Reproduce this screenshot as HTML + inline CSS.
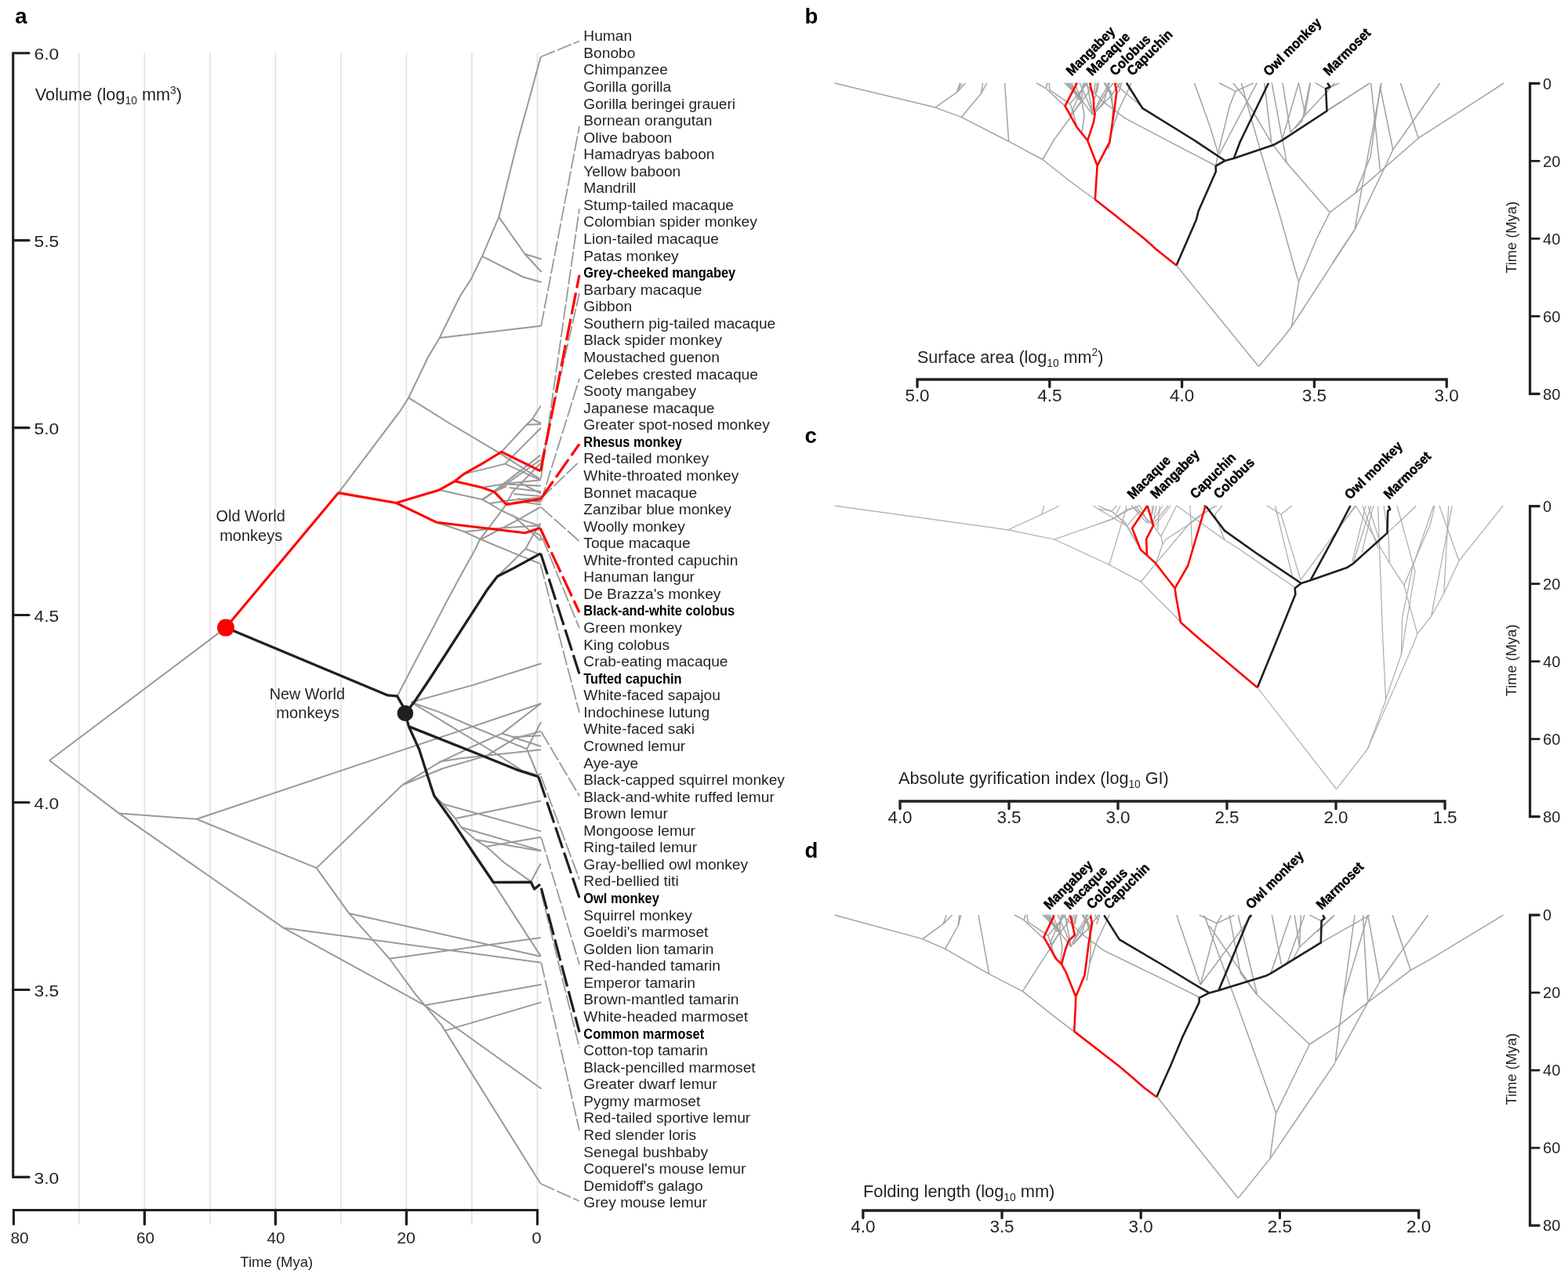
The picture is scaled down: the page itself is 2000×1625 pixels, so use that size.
<!DOCTYPE html>
<html><head><meta charset="utf-8"><title>Figure</title>
<style>html,body{margin:0;padding:0;background:#fff;} svg{display:block;} text{font-family:"Liberation Sans",Arial,sans-serif;}</style>
</head><body>
<svg xmlns="http://www.w3.org/2000/svg" width="2000" height="1625" viewBox="0 0 2000 1625">
<rect width="2000" height="1625" fill="#fff"/>
<line x1="100.9" y1="67.5" x2="100.9" y2="1562" stroke="#e3e3e3" stroke-width="1.8"/>
<line x1="184.4" y1="67.5" x2="184.4" y2="1562" stroke="#e3e3e3" stroke-width="1.8"/>
<line x1="267.9" y1="67.5" x2="267.9" y2="1562" stroke="#e3e3e3" stroke-width="1.8"/>
<line x1="351.4" y1="67.5" x2="351.4" y2="1562" stroke="#e3e3e3" stroke-width="1.8"/>
<line x1="434.9" y1="67.5" x2="434.9" y2="1562" stroke="#e3e3e3" stroke-width="1.8"/>
<line x1="518.4" y1="67.5" x2="518.4" y2="1562" stroke="#e3e3e3" stroke-width="1.8"/>
<line x1="601.9" y1="67.5" x2="601.9" y2="1562" stroke="#e3e3e3" stroke-width="1.8"/>
<line x1="685.4" y1="67.5" x2="685.4" y2="1562" stroke="#e3e3e3" stroke-width="1.8"/>
<path d="M37,67.7 H16.7 V1501.4 H37" fill="none" stroke="#231f20" stroke-width="3.1" stroke-linejoin="miter" stroke-linecap="round"/>
<line x1="16.7" y1="306.6" x2="37" y2="306.6" stroke="#231f20" stroke-width="3.1" stroke-linecap="round"/>
<line x1="16.7" y1="545.6" x2="37" y2="545.6" stroke="#231f20" stroke-width="3.1" stroke-linecap="round"/>
<line x1="16.7" y1="784.5" x2="37" y2="784.5" stroke="#231f20" stroke-width="3.1" stroke-linecap="round"/>
<line x1="16.7" y1="1023.5" x2="37" y2="1023.5" stroke="#231f20" stroke-width="3.1" stroke-linecap="round"/>
<line x1="16.7" y1="1262.5" x2="37" y2="1262.5" stroke="#231f20" stroke-width="3.1" stroke-linecap="round"/>
<text x="0" y="0" transform="translate(43.60,76.20) scale(1.0860,1)" fill="#231f20"><tspan font-size="21" dy="0">6.0</tspan></text>
<text x="0" y="0" transform="translate(43.60,315.15) scale(1.0860,1)" fill="#231f20"><tspan font-size="21" dy="0">5.5</tspan></text>
<text x="0" y="0" transform="translate(43.60,554.10) scale(1.0860,1)" fill="#231f20"><tspan font-size="21" dy="0">5.0</tspan></text>
<text x="0" y="0" transform="translate(43.60,793.05) scale(1.0860,1)" fill="#231f20"><tspan font-size="21" dy="0">4.5</tspan></text>
<text x="0" y="0" transform="translate(43.60,1032.00) scale(1.0860,1)" fill="#231f20"><tspan font-size="21" dy="0">4.0</tspan></text>
<text x="0" y="0" transform="translate(43.60,1270.95) scale(1.0860,1)" fill="#231f20"><tspan font-size="21" dy="0">3.5</tspan></text>
<text x="0" y="0" transform="translate(43.60,1509.90) scale(1.0860,1)" fill="#231f20"><tspan font-size="21" dy="0">3.0</tspan></text>
<path d="M17.4,1561.5 V1543.5 H685.4 V1561.5" fill="none" stroke="#231f20" stroke-width="3.1" stroke-linecap="round"/>
<line x1="184.4" y1="1543.5" x2="184.4" y2="1561.5" stroke="#231f20" stroke-width="3.4" stroke-linecap="round"/>
<line x1="351.4" y1="1543.5" x2="351.4" y2="1561.5" stroke="#231f20" stroke-width="3.4" stroke-linecap="round"/>
<line x1="518.4" y1="1543.5" x2="518.4" y2="1561.5" stroke="#231f20" stroke-width="3.4" stroke-linecap="round"/>
<text x="0" y="0" transform="translate(13.50,1586.30) scale(1.0597,1)" fill="#231f20"><tspan font-size="19.6" dy="0">80</tspan></text>
<text x="0" y="0" transform="translate(174.00,1586.30) scale(1.0551,1)" fill="#231f20"><tspan font-size="19.6" dy="0">60</tspan></text>
<text x="0" y="0" transform="translate(340.60,1586.30) scale(1.0551,1)" fill="#231f20"><tspan font-size="19.6" dy="0">40</tspan></text>
<text x="0" y="0" transform="translate(506.20,1586.30) scale(1.0918,1)" fill="#231f20"><tspan font-size="19.6" dy="0">20</tspan></text>
<text x="0" y="0" transform="translate(678.20,1586.30) scale(1.1377,1)" fill="#231f20"><tspan font-size="19.6" dy="0">0</tspan></text>
<text x="0" y="0" transform="translate(306.30,1616.30) scale(1.0184,1)" fill="#231f20"><tspan font-size="18.2" dy="0">Time (Mya)</tspan></text>
<text x="0" y="0" transform="translate(44.80,128.10) scale(0.9873,1)" fill="#231f20"><tspan font-size="22" dy="0">Volume (log</tspan><tspan font-size="14" dy="5">10</tspan><tspan font-size="22" dy="-5"> mm</tspan><tspan font-size="14" dy="-8">3</tspan><tspan font-size="22" dy="8">)</tspan></text>
<text x="19.3" y="29.8" font-size="27.5" text-anchor="start" font-weight="bold" fill="#000">a</text>
<text x="0" y="0" transform="translate(275.60,664.50) scale(1.0217,1)" fill="#231f20"><tspan font-size="19.5" dy="0">Old World</tspan></text>
<text x="0" y="0" transform="translate(280.20,689.50) scale(1.0266,1)" fill="#231f20"><tspan font-size="19.5" dy="0">monkeys</tspan></text>
<text x="0" y="0" transform="translate(343.70,891.90) scale(1.0138,1)" fill="#231f20"><tspan font-size="19.5" dy="0">New World</tspan></text>
<text x="0" y="0" transform="translate(352.30,915.90) scale(1.0330,1)" fill="#231f20"><tspan font-size="19.5" dy="0">monkeys</tspan></text>
<g transform="translate(744.3,0)">
<text x="0" y="52.3" font-size="17.5" fill="#231f20" transform="scale(1.095,1)">Human</text>
<text x="0" y="73.9" font-size="17.5" fill="#231f20" transform="scale(1.095,1)">Bonobo</text>
<text x="0" y="95.4" font-size="17.5" fill="#231f20" transform="scale(1.095,1)">Chimpanzee</text>
<text x="0" y="117.0" font-size="17.5" fill="#231f20" transform="scale(1.095,1)">Gorilla gorilla</text>
<text x="0" y="138.6" font-size="17.5" fill="#231f20" transform="scale(1.095,1)">Gorilla beringei graueri</text>
<text x="0" y="160.1" font-size="17.5" fill="#231f20" transform="scale(1.095,1)">Bornean orangutan</text>
<text x="0" y="181.7" font-size="17.5" fill="#231f20" transform="scale(1.095,1)">Olive baboon</text>
<text x="0" y="203.3" font-size="17.5" fill="#231f20" transform="scale(1.095,1)">Hamadryas baboon</text>
<text x="0" y="224.8" font-size="17.5" fill="#231f20" transform="scale(1.095,1)">Yellow baboon</text>
<text x="0" y="246.4" font-size="17.5" fill="#231f20" transform="scale(1.095,1)">Mandrill</text>
<text x="0" y="267.9" font-size="17.5" fill="#231f20" transform="scale(1.095,1)">Stump-tailed macaque</text>
<text x="0" y="289.5" font-size="17.5" fill="#231f20" transform="scale(1.095,1)">Colombian spider monkey</text>
<text x="0" y="311.1" font-size="17.5" fill="#231f20" transform="scale(1.095,1)">Lion-tailed macaque</text>
<text x="0" y="332.6" font-size="17.5" fill="#231f20" transform="scale(1.095,1)">Patas monkey</text>
<text x="0" y="354.2" font-size="17.5" font-weight="bold" fill="#000" transform="scale(0.937,1)">Grey-cheeked mangabey</text>
<text x="0" y="375.8" font-size="17.5" fill="#231f20" transform="scale(1.095,1)">Barbary macaque</text>
<text x="0" y="397.3" font-size="17.5" fill="#231f20" transform="scale(1.095,1)">Gibbon</text>
<text x="0" y="418.9" font-size="17.5" fill="#231f20" transform="scale(1.095,1)">Southern pig-tailed macaque</text>
<text x="0" y="440.5" font-size="17.5" fill="#231f20" transform="scale(1.095,1)">Black spider monkey</text>
<text x="0" y="462.0" font-size="17.5" fill="#231f20" transform="scale(1.095,1)">Moustached guenon</text>
<text x="0" y="483.6" font-size="17.5" fill="#231f20" transform="scale(1.095,1)">Celebes crested macaque</text>
<text x="0" y="505.2" font-size="17.5" fill="#231f20" transform="scale(1.095,1)">Sooty mangabey</text>
<text x="0" y="526.7" font-size="17.5" fill="#231f20" transform="scale(1.095,1)">Japanese macaque</text>
<text x="0" y="548.3" font-size="17.5" fill="#231f20" transform="scale(1.095,1)">Greater spot-nosed monkey</text>
<text x="0" y="569.9" font-size="17.5" font-weight="bold" fill="#000" transform="scale(0.937,1)">Rhesus monkey</text>
<text x="0" y="591.4" font-size="17.5" fill="#231f20" transform="scale(1.095,1)">Red-tailed monkey</text>
<text x="0" y="613.0" font-size="17.5" fill="#231f20" transform="scale(1.095,1)">White-throated monkey</text>
<text x="0" y="634.6" font-size="17.5" fill="#231f20" transform="scale(1.095,1)">Bonnet macaque</text>
<text x="0" y="656.1" font-size="17.5" fill="#231f20" transform="scale(1.095,1)">Zanzibar blue monkey</text>
<text x="0" y="677.7" font-size="17.5" fill="#231f20" transform="scale(1.095,1)">Woolly monkey</text>
<text x="0" y="699.2" font-size="17.5" fill="#231f20" transform="scale(1.095,1)">Toque macaque</text>
<text x="0" y="720.8" font-size="17.5" fill="#231f20" transform="scale(1.095,1)">White-fronted capuchin</text>
<text x="0" y="742.4" font-size="17.5" fill="#231f20" transform="scale(1.095,1)">Hanuman langur</text>
<text x="0" y="763.9" font-size="17.5" fill="#231f20" transform="scale(1.095,1)">De Brazza's monkey</text>
<text x="0" y="785.5" font-size="17.5" font-weight="bold" fill="#000" transform="scale(0.937,1)">Black-and-white colobus</text>
<text x="0" y="807.1" font-size="17.5" fill="#231f20" transform="scale(1.095,1)">Green monkey</text>
<text x="0" y="828.6" font-size="17.5" fill="#231f20" transform="scale(1.095,1)">King colobus</text>
<text x="0" y="850.2" font-size="17.5" fill="#231f20" transform="scale(1.095,1)">Crab-eating macaque</text>
<text x="0" y="871.8" font-size="17.5" font-weight="bold" fill="#000" transform="scale(0.937,1)">Tufted capuchin</text>
<text x="0" y="893.3" font-size="17.5" fill="#231f20" transform="scale(1.095,1)">White-faced sapajou</text>
<text x="0" y="914.9" font-size="17.5" fill="#231f20" transform="scale(1.095,1)">Indochinese lutung</text>
<text x="0" y="936.5" font-size="17.5" fill="#231f20" transform="scale(1.095,1)">White-faced saki</text>
<text x="0" y="958.0" font-size="17.5" fill="#231f20" transform="scale(1.095,1)">Crowned lemur</text>
<text x="0" y="979.6" font-size="17.5" fill="#231f20" transform="scale(1.095,1)">Aye-aye</text>
<text x="0" y="1001.2" font-size="17.5" fill="#231f20" transform="scale(1.095,1)">Black-capped squirrel monkey</text>
<text x="0" y="1022.7" font-size="17.5" fill="#231f20" transform="scale(1.095,1)">Black-and-white ruffed lemur</text>
<text x="0" y="1044.3" font-size="17.5" fill="#231f20" transform="scale(1.095,1)">Brown lemur</text>
<text x="0" y="1065.9" font-size="17.5" fill="#231f20" transform="scale(1.095,1)">Mongoose lemur</text>
<text x="0" y="1087.4" font-size="17.5" fill="#231f20" transform="scale(1.095,1)">Ring-tailed lemur</text>
<text x="0" y="1109.0" font-size="17.5" fill="#231f20" transform="scale(1.095,1)">Gray-bellied owl monkey</text>
<text x="0" y="1130.5" font-size="17.5" fill="#231f20" transform="scale(1.095,1)">Red-bellied titi</text>
<text x="0" y="1152.1" font-size="17.5" font-weight="bold" fill="#000" transform="scale(0.937,1)">Owl monkey</text>
<text x="0" y="1173.7" font-size="17.5" fill="#231f20" transform="scale(1.095,1)">Squirrel monkey</text>
<text x="0" y="1195.2" font-size="17.5" fill="#231f20" transform="scale(1.095,1)">Goeldi's marmoset</text>
<text x="0" y="1216.8" font-size="17.5" fill="#231f20" transform="scale(1.095,1)">Golden lion tamarin</text>
<text x="0" y="1238.4" font-size="17.5" fill="#231f20" transform="scale(1.095,1)">Red-handed tamarin</text>
<text x="0" y="1259.9" font-size="17.5" fill="#231f20" transform="scale(1.095,1)">Emperor tamarin</text>
<text x="0" y="1281.5" font-size="17.5" fill="#231f20" transform="scale(1.095,1)">Brown-mantled tamarin</text>
<text x="0" y="1303.1" font-size="17.5" fill="#231f20" transform="scale(1.095,1)">White-headed marmoset</text>
<text x="0" y="1324.6" font-size="17.5" font-weight="bold" fill="#000" transform="scale(0.937,1)">Common marmoset</text>
<text x="0" y="1346.2" font-size="17.5" fill="#231f20" transform="scale(1.095,1)">Cotton-top tamarin</text>
<text x="0" y="1367.8" font-size="17.5" fill="#231f20" transform="scale(1.095,1)">Black-pencilled marmoset</text>
<text x="0" y="1389.3" font-size="17.5" fill="#231f20" transform="scale(1.095,1)">Greater dwarf lemur</text>
<text x="0" y="1410.9" font-size="17.5" fill="#231f20" transform="scale(1.095,1)">Pygmy marmoset</text>
<text x="0" y="1432.5" font-size="17.5" fill="#231f20" transform="scale(1.095,1)">Red-tailed sportive lemur</text>
<text x="0" y="1454.0" font-size="17.5" fill="#231f20" transform="scale(1.095,1)">Red slender loris</text>
<text x="0" y="1475.6" font-size="17.5" fill="#231f20" transform="scale(1.095,1)">Senegal bushbaby</text>
<text x="0" y="1497.2" font-size="17.5" fill="#231f20" transform="scale(1.095,1)">Coquerel's mouse lemur</text>
<text x="0" y="1518.7" font-size="17.5" fill="#231f20" transform="scale(1.095,1)">Demidoff's galago</text>
<text x="0" y="1540.3" font-size="17.5" fill="#231f20" transform="scale(1.095,1)">Grey mouse lemur</text>
</g>
<polyline points="63.0,970.0 288.0,800.6" fill="none" stroke="#999999" stroke-width="2.0" stroke-linejoin="round" stroke-linecap="butt"/>
<polyline points="63.0,970.0 151.7,1037.4" fill="none" stroke="#999999" stroke-width="2.0" stroke-linejoin="round" stroke-linecap="butt"/>
<polyline points="151.7,1037.4 250.6,1044.8" fill="none" stroke="#999999" stroke-width="2.0" stroke-linejoin="round" stroke-linecap="butt"/>
<polyline points="250.6,1044.8 690.5,897.2" fill="none" stroke="#999999" stroke-width="2.0" stroke-linejoin="round" stroke-linecap="butt"/>
<polyline points="250.6,1044.8 403.7,1107.1" fill="none" stroke="#999999" stroke-width="2.0" stroke-linejoin="round" stroke-linecap="butt"/>
<polyline points="403.7,1107.1 513.2,1001.2" fill="none" stroke="#999999" stroke-width="2.0" stroke-linejoin="round" stroke-linecap="butt"/>
<polyline points="403.7,1107.1 445.1,1164.9 496.8,1222.8 530.0,1268.3 563.4,1307.9 689.5,1509.8" fill="none" stroke="#999999" stroke-width="2.0" stroke-linejoin="round" stroke-linecap="butt"/>
<polyline points="445.1,1164.9 689.7,1220.0" fill="none" stroke="#999999" stroke-width="2.0" stroke-linejoin="round" stroke-linecap="butt"/>
<polyline points="496.8,1222.8 689.7,1196.0" fill="none" stroke="#999999" stroke-width="2.0" stroke-linejoin="round" stroke-linecap="butt"/>
<polyline points="151.7,1037.4 361.4,1183.4" fill="none" stroke="#999999" stroke-width="2.0" stroke-linejoin="round" stroke-linecap="butt"/>
<polyline points="361.4,1183.4 689.7,1227.8" fill="none" stroke="#999999" stroke-width="2.0" stroke-linejoin="round" stroke-linecap="butt"/>
<polyline points="361.4,1183.4 541.8,1282.3 690.5,1388.7" fill="none" stroke="#999999" stroke-width="2.0" stroke-linejoin="round" stroke-linecap="butt"/>
<polyline points="541.8,1282.3 690.5,1255.8" fill="none" stroke="#999999" stroke-width="2.0" stroke-linejoin="round" stroke-linecap="butt"/>
<polyline points="568.4,1314.4 690.5,1278.4" fill="none" stroke="#999999" stroke-width="2.0" stroke-linejoin="round" stroke-linecap="butt"/>
<polyline points="431.7,628.6 511.0,523.4 521.2,507.3" fill="none" stroke="#999999" stroke-width="2.0" stroke-linejoin="round" stroke-linecap="butt"/>
<polyline points="521.2,507.3 545.8,456.0 560.6,431.0" fill="none" stroke="#999999" stroke-width="2.0" stroke-linejoin="round" stroke-linecap="butt"/>
<polyline points="560.6,431.0 689.8,415.7" fill="none" stroke="#999999" stroke-width="2.0" stroke-linejoin="round" stroke-linecap="butt"/>
<polyline points="560.6,431.0 586.4,378.5 601.2,355.4 615.0,326.8" fill="none" stroke="#999999" stroke-width="2.0" stroke-linejoin="round" stroke-linecap="butt"/>
<polyline points="615.0,326.8 667.7,353.5 690.7,360.0" fill="none" stroke="#999999" stroke-width="2.0" stroke-linejoin="round" stroke-linecap="butt"/>
<polyline points="615.0,326.8 636.3,276.9" fill="none" stroke="#999999" stroke-width="2.0" stroke-linejoin="round" stroke-linecap="butt"/>
<polyline points="636.3,276.9 669.5,324.0 690.7,330.5" fill="none" stroke="#999999" stroke-width="2.0" stroke-linejoin="round" stroke-linecap="butt"/>
<polyline points="669.5,324.0 690.7,347.0" fill="none" stroke="#999999" stroke-width="2.0" stroke-linejoin="round" stroke-linecap="butt"/>
<polyline points="636.3,276.9 661.0,177.0 672.8,134.5 689.7,72.5" fill="none" stroke="#999999" stroke-width="2.0" stroke-linejoin="round" stroke-linecap="butt"/>
<polyline points="521.2,507.3 573.5,540.0 635.4,576.9 689.5,611.4" fill="none" stroke="#999999" stroke-width="2.0" stroke-linejoin="round" stroke-linecap="butt"/>
<polyline points="524.3,895.7 604.0,873.6 690.5,846.2" fill="none" stroke="#999999" stroke-width="2.0" stroke-linejoin="round" stroke-linecap="butt"/>
<polyline points="591.7,604.6 644.3,591.6 690.0,545.8" fill="none" stroke="#999999" stroke-width="2.0" stroke-linejoin="round" stroke-linecap="butt"/>
<polyline points="644.3,591.6 689.3,612.3" fill="none" stroke="#999999" stroke-width="2.0" stroke-linejoin="round" stroke-linecap="butt"/>
<polyline points="639.8,576.1 671.6,541.8 679.0,534.5 689.7,517.5" fill="none" stroke="#999999" stroke-width="2.0" stroke-linejoin="round" stroke-linecap="butt"/>
<polyline points="671.6,541.8 690.0,541.0" fill="none" stroke="#999999" stroke-width="2.0" stroke-linejoin="round" stroke-linecap="butt"/>
<polyline points="679.0,534.5 690.0,540.0" fill="none" stroke="#999999" stroke-width="2.0" stroke-linejoin="round" stroke-linecap="butt"/>
<polyline points="616.2,637.4 689.3,580.6" fill="none" stroke="#999999" stroke-width="2.0" stroke-linejoin="round" stroke-linecap="butt"/>
<polyline points="631.7,627.1 689.3,586.5" fill="none" stroke="#999999" stroke-width="2.0" stroke-linejoin="round" stroke-linecap="butt"/>
<polyline points="618.4,621.2 646.5,616.7 690.0,612.3" fill="none" stroke="#999999" stroke-width="2.0" stroke-linejoin="round" stroke-linecap="butt"/>
<polyline points="645.0,617.5 690.0,619.7" fill="none" stroke="#999999" stroke-width="2.0" stroke-linejoin="round" stroke-linecap="butt"/>
<polyline points="649.4,621.9 690.0,627.1" fill="none" stroke="#999999" stroke-width="2.0" stroke-linejoin="round" stroke-linecap="butt"/>
<polyline points="663.5,616.0 690.0,629.3" fill="none" stroke="#999999" stroke-width="2.0" stroke-linejoin="round" stroke-linecap="butt"/>
<polyline points="655.0,630.0 690.0,633.0" fill="none" stroke="#999999" stroke-width="2.0" stroke-linejoin="round" stroke-linecap="butt"/>
<polyline points="660.0,636.0 690.0,640.5" fill="none" stroke="#999999" stroke-width="2.0" stroke-linejoin="round" stroke-linecap="butt"/>
<polyline points="670.0,641.0 690.0,643.5" fill="none" stroke="#999999" stroke-width="2.0" stroke-linejoin="round" stroke-linecap="butt"/>
<polyline points="560.3,624.9 614.7,637.0 624.3,642.2 639.1,651.0 661.2,661.4 689.3,671.0" fill="none" stroke="#999999" stroke-width="2.0" stroke-linejoin="round" stroke-linecap="butt"/>
<polyline points="614.7,637.0 631.7,626.6 646.5,620.0" fill="none" stroke="#999999" stroke-width="2.0" stroke-linejoin="round" stroke-linecap="butt"/>
<polyline points="624.3,642.2 646.5,638.5 689.3,634.8" fill="none" stroke="#999999" stroke-width="2.0" stroke-linejoin="round" stroke-linecap="butt"/>
<polyline points="507.3,886.9 528.7,845.5 549.4,806.4 568.6,769.4 584.4,740.0 606.5,700.0 611.8,688.7 645.0,644.4 653.9,627.4 661.2,620.0 689.3,591.0" fill="none" stroke="#999999" stroke-width="2.0" stroke-linejoin="round" stroke-linecap="butt"/>
<polyline points="556.6,666.2 592.6,678.3 613.2,688.0 661.2,707.9 689.3,719.0" fill="none" stroke="#999999" stroke-width="2.0" stroke-linejoin="round" stroke-linecap="butt"/>
<polyline points="592.6,678.3 631.7,673.9 689.3,670.2" fill="none" stroke="#999999" stroke-width="2.0" stroke-linejoin="round" stroke-linecap="butt"/>
<polyline points="613.2,688.0 661.2,662.8 689.3,646.6" fill="none" stroke="#999999" stroke-width="2.0" stroke-linejoin="round" stroke-linecap="butt"/>
<polyline points="634.4,735.2 670.3,700.0 681.9,679.1 689.3,667.3" fill="none" stroke="#999999" stroke-width="2.0" stroke-linejoin="round" stroke-linecap="butt"/>
<polyline points="681.9,679.1 689.3,682.8 690.8,689.4" fill="none" stroke="#999999" stroke-width="2.0" stroke-linejoin="round" stroke-linecap="butt"/>
<polyline points="670.3,700.0 689.3,707.6" fill="none" stroke="#999999" stroke-width="2.0" stroke-linejoin="round" stroke-linecap="butt"/>
<polyline points="653.9,656.9 689.3,689.4" fill="none" stroke="#999999" stroke-width="2.0" stroke-linejoin="round" stroke-linecap="butt"/>
<polyline points="524.3,895.7 560.0,908.1 603.1,927.0 672.0,955.4 682.3,980.0 686.8,990.8" fill="none" stroke="#999999" stroke-width="2.0" stroke-linejoin="round" stroke-linecap="butt"/>
<polyline points="524.3,895.7 560.0,917.1 630.6,960.0 665.1,982.4 687.5,989.3" fill="none" stroke="#999999" stroke-width="2.0" stroke-linejoin="round" stroke-linecap="butt"/>
<polyline points="513.2,1001.2 560.5,972.4 603.1,952.0 640.1,935.6 690.1,897.3" fill="none" stroke="#999999" stroke-width="2.0" stroke-linejoin="round" stroke-linecap="butt"/>
<polyline points="513.2,1001.2 565.2,980.0 620.3,964.1 657.4,941.7 690.1,932.6" fill="none" stroke="#999999" stroke-width="2.0" stroke-linejoin="round" stroke-linecap="butt"/>
<polyline points="560.0,971.8 585.8,967.5 690.1,956.3" fill="none" stroke="#999999" stroke-width="2.0" stroke-linejoin="round" stroke-linecap="butt"/>
<polyline points="640.1,935.6 654.8,940.0 690.1,938.2" fill="none" stroke="#999999" stroke-width="2.0" stroke-linejoin="round" stroke-linecap="butt"/>
<polyline points="672.0,955.4 690.1,921.0" fill="none" stroke="#999999" stroke-width="2.0" stroke-linejoin="round" stroke-linecap="butt"/>
<polyline points="653.0,940.0 690.1,952.0" fill="none" stroke="#999999" stroke-width="2.0" stroke-linejoin="round" stroke-linecap="butt"/>
<polyline points="687.5,988.4 690.1,986.7" fill="none" stroke="#999999" stroke-width="2.0" stroke-linejoin="round" stroke-linecap="butt"/>
<polyline points="553.9,1015.2 565.2,1025.5 690.1,1060.4" fill="none" stroke="#999999" stroke-width="2.0" stroke-linejoin="round" stroke-linecap="butt"/>
<polyline points="565.2,1025.5 580.7,1044.0 588.4,1055.2 606.5,1071.1 620.3,1079.8 642.7,1100.0 677.2,1124.4" fill="none" stroke="#999999" stroke-width="2.0" stroke-linejoin="round" stroke-linecap="butt"/>
<polyline points="580.7,1044.0 690.1,1021.6" fill="none" stroke="#999999" stroke-width="2.0" stroke-linejoin="round" stroke-linecap="butt"/>
<polyline points="588.4,1055.2 690.1,1084.9" fill="none" stroke="#999999" stroke-width="2.0" stroke-linejoin="round" stroke-linecap="butt"/>
<polyline points="606.5,1071.1 690.1,1085.5" fill="none" stroke="#999999" stroke-width="2.0" stroke-linejoin="round" stroke-linecap="butt"/>
<polyline points="620.3,1079.8 690.1,1067.7" fill="none" stroke="#999999" stroke-width="2.0" stroke-linejoin="round" stroke-linecap="butt"/>
<polyline points="629.2,1125.9 689.7,1219.6" fill="none" stroke="#999999" stroke-width="2.0" stroke-linejoin="round" stroke-linecap="butt"/>
<polyline points="677.2,1124.4 689.7,1101.5" fill="none" stroke="#999999" stroke-width="2.0" stroke-linejoin="round" stroke-linecap="butt"/>
<polyline points="689.7,72.5 739.0,52.5" fill="none" stroke="#999999" stroke-width="1.8" stroke-linejoin="round" stroke-linecap="butt" stroke-dasharray="19.5,3.2"/>
<polyline points="690.2,415.8 739.0,161.0" fill="none" stroke="#999999" stroke-width="1.8" stroke-linejoin="round" stroke-linecap="butt" stroke-dasharray="19.5,3.2"/>
<polyline points="690.0,610.0 739.0,266.3" fill="none" stroke="#999999" stroke-width="1.8" stroke-linejoin="round" stroke-linecap="butt" stroke-dasharray="19.5,3.2"/>
<polyline points="690.0,590.0 739.0,373.7" fill="none" stroke="#999999" stroke-width="1.8" stroke-linejoin="round" stroke-linecap="butt" stroke-dasharray="19.5,3.2"/>
<polyline points="690.0,640.0 739.0,482.9" fill="none" stroke="#999999" stroke-width="1.8" stroke-linejoin="round" stroke-linecap="butt" stroke-dasharray="19.5,3.2"/>
<polyline points="690.0,636.0 739.0,588.5" fill="none" stroke="#999999" stroke-width="1.8" stroke-linejoin="round" stroke-linecap="butt" stroke-dasharray="19.5,3.2"/>
<polyline points="690.0,646.9 739.0,690.4" fill="none" stroke="#999999" stroke-width="1.8" stroke-linejoin="round" stroke-linecap="butt" stroke-dasharray="19.5,3.2"/>
<polyline points="691.8,686.0 739.0,801.1" fill="none" stroke="#999999" stroke-width="1.8" stroke-linejoin="round" stroke-linecap="butt" stroke-dasharray="19.5,3.2"/>
<polyline points="689.5,719.9 739.0,909.0" fill="none" stroke="#999999" stroke-width="1.8" stroke-linejoin="round" stroke-linecap="butt" stroke-dasharray="19.5,3.2"/>
<polyline points="690.3,933.2 739.0,1015.2" fill="none" stroke="#999999" stroke-width="1.8" stroke-linejoin="round" stroke-linecap="butt" stroke-dasharray="19.5,3.2"/>
<polyline points="690.0,990.0 739.0,1121.6" fill="none" stroke="#999999" stroke-width="1.8" stroke-linejoin="round" stroke-linecap="butt" stroke-dasharray="19.5,3.2"/>
<polyline points="690.3,1068.4 739.0,1230.0" fill="none" stroke="#999999" stroke-width="1.8" stroke-linejoin="round" stroke-linecap="butt" stroke-dasharray="19.5,3.2"/>
<polyline points="690.0,1137.0 739.0,1336.4" fill="none" stroke="#999999" stroke-width="1.8" stroke-linejoin="round" stroke-linecap="butt" stroke-dasharray="19.5,3.2"/>
<polyline points="690.3,1227.8 739.0,1441.9" fill="none" stroke="#999999" stroke-width="1.8" stroke-linejoin="round" stroke-linecap="butt" stroke-dasharray="19.5,3.2"/>
<polyline points="689.5,1509.8 739.0,1532.0" fill="none" stroke="#999999" stroke-width="1.8" stroke-linejoin="round" stroke-linecap="butt" stroke-dasharray="19.5,3.2"/>
<polyline points="288.0,800.6 494.8,886.9 506.6,887.9 514.0,900.9 516.9,909.7" fill="none" stroke="#1f1f1f" stroke-width="3.3" stroke-linejoin="round" stroke-linecap="butt"/>
<polyline points="516.9,909.7 528.7,895.0 549.4,864.0 621.8,751.7 634.4,735.2 655.8,724.4 689.7,705.9" fill="none" stroke="#1f1f1f" stroke-width="3.3" stroke-linejoin="round" stroke-linecap="butt"/>
<polyline points="516.9,909.7 521.4,926.6 601.1,958.3 661.7,982.7 686.8,990.8" fill="none" stroke="#1f1f1f" stroke-width="3.3" stroke-linejoin="round" stroke-linecap="butt"/>
<polyline points="521.4,926.6 534.7,956.0 549.4,1001.9 553.9,1015.2 576.0,1046.2 605.6,1090.5 629.2,1125.3 677.2,1125.1 681.6,1134.0 689.0,1128.0" fill="none" stroke="#1f1f1f" stroke-width="3.3" stroke-linejoin="round" stroke-linecap="butt"/>
<polyline points="288.0,800.6 431.7,628.6" fill="none" stroke="#ff0000" stroke-width="3.1" stroke-linejoin="round" stroke-linecap="butt"/>
<polyline points="431.7,628.6 505.5,641.5" fill="none" stroke="#ff0000" stroke-width="3.1" stroke-linejoin="round" stroke-linecap="butt"/>
<polyline points="505.5,641.5 560.3,624.9 580.0,613.8" fill="none" stroke="#ff0000" stroke-width="3.1" stroke-linejoin="round" stroke-linecap="butt"/>
<polyline points="580.0,613.8 591.7,604.6 614.5,591.7 639.7,576.3 689.5,600.9" fill="none" stroke="#ff0000" stroke-width="3.1" stroke-linejoin="round" stroke-linecap="butt"/>
<polyline points="580.0,613.8 614.5,621.8 630.5,627.4 645.8,643.4 689.5,636.6" fill="none" stroke="#ff0000" stroke-width="3.1" stroke-linejoin="round" stroke-linecap="butt"/>
<polyline points="505.5,641.5 556.6,666.2 669.8,679.7 688.9,673.5" fill="none" stroke="#ff0000" stroke-width="3.1" stroke-linejoin="round" stroke-linecap="butt"/>
<polyline points="689.5,600.9 739.0,350.8" fill="none" stroke="#ff0000" stroke-width="3.2" stroke-linejoin="round" stroke-linecap="butt" stroke-dasharray="28,6"/>
<polyline points="689.5,636.6 739.0,566.4" fill="none" stroke="#ff0000" stroke-width="3.2" stroke-linejoin="round" stroke-linecap="butt" stroke-dasharray="28,6"/>
<polyline points="688.9,673.5 739.0,781.2" fill="none" stroke="#ff0000" stroke-width="3.2" stroke-linejoin="round" stroke-linecap="butt" stroke-dasharray="28,6"/>
<polyline points="689.7,705.9 739.0,859.5" fill="none" stroke="#1f1f1f" stroke-width="3.2" stroke-linejoin="round" stroke-linecap="butt" stroke-dasharray="28,6"/>
<polyline points="686.8,990.8 739.0,1145.1" fill="none" stroke="#1f1f1f" stroke-width="3.2" stroke-linejoin="round" stroke-linecap="butt" stroke-dasharray="28,6"/>
<polyline points="690.3,1132.6 739.0,1316.5" fill="none" stroke="#1f1f1f" stroke-width="3.2" stroke-linejoin="round" stroke-linecap="butt" stroke-dasharray="28,6"/>
<circle cx="288" cy="800.6" r="11" fill="#ff0000"/>
<circle cx="516.9" cy="909.7" r="10.3" fill="#1f1f1f"/>
<text x="1026.6" y="30.3" font-size="27.5" text-anchor="start" font-weight="bold" fill="#000">b</text>
<path d="M1170.0,493.5 V484.0 H1845.2 V493.5" fill="none" stroke="#231f20" stroke-width="3.3" stroke-linecap="round"/>
<line x1="1338.8" y1="484.0" x2="1338.8" y2="493.5" stroke="#231f20" stroke-width="3.3" stroke-linecap="round"/>
<line x1="1507.6" y1="484.0" x2="1507.6" y2="493.5" stroke="#231f20" stroke-width="3.3" stroke-linecap="round"/>
<line x1="1676.4" y1="484.0" x2="1676.4" y2="493.5" stroke="#231f20" stroke-width="3.3" stroke-linecap="round"/>
<text x="0" y="0" transform="translate(1154.40,511.70) scale(1.0392,1)" fill="#231f20"><tspan font-size="21.6" dy="0">5.0</tspan></text>
<text x="0" y="0" transform="translate(1323.20,511.70) scale(1.0392,1)" fill="#231f20"><tspan font-size="21.6" dy="0">4.5</tspan></text>
<text x="0" y="0" transform="translate(1492.00,511.70) scale(1.0392,1)" fill="#231f20"><tspan font-size="21.6" dy="0">4.0</tspan></text>
<text x="0" y="0" transform="translate(1660.80,511.70) scale(1.0392,1)" fill="#231f20"><tspan font-size="21.6" dy="0">3.5</tspan></text>
<text x="0" y="0" transform="translate(1829.60,511.70) scale(1.0392,1)" fill="#231f20"><tspan font-size="21.6" dy="0">3.0</tspan></text>
<path d="M1963.2,106.3 H1951.5 V502.3 H1963.2" fill="none" stroke="#231f20" stroke-width="3.2" stroke-linecap="round"/>
<line x1="1951.5" y1="205.3" x2="1963.2" y2="205.3" stroke="#231f20" stroke-width="2.8" stroke-linecap="round"/>
<line x1="1951.5" y1="304.3" x2="1963.2" y2="304.3" stroke="#231f20" stroke-width="2.8" stroke-linecap="round"/>
<line x1="1951.5" y1="403.3" x2="1963.2" y2="403.3" stroke="#231f20" stroke-width="2.8" stroke-linecap="round"/>
<text x="0" y="0" transform="translate(1968.10,113.60) scale(0.9561,1)" fill="#231f20"><tspan font-size="20.5" dy="0">0</tspan></text>
<text x="0" y="0" transform="translate(1968.10,212.60) scale(0.9737,1)" fill="#231f20"><tspan font-size="20.5" dy="0">20</tspan></text>
<text x="0" y="0" transform="translate(1968.10,311.60) scale(0.9737,1)" fill="#231f20"><tspan font-size="20.5" dy="0">40</tspan></text>
<text x="0" y="0" transform="translate(1968.10,410.60) scale(0.9737,1)" fill="#231f20"><tspan font-size="20.5" dy="0">60</tspan></text>
<text x="0" y="0" transform="translate(1968.10,509.60) scale(0.9737,1)" fill="#231f20"><tspan font-size="20.5" dy="0">80</tspan></text>
<text x="0" y="0" font-size="18.6" text-anchor="middle" fill="#231f20" transform="translate(1934.2,302.9) rotate(-90) scale(0.9836,1)">Time (Mya)</text>
<text x="0" y="0" transform="translate(1170.00,463.30) scale(0.9806,1)" fill="#231f20"><tspan font-size="22" dy="0">Surface area (log</tspan><tspan font-size="14" dy="5">10</tspan><tspan font-size="22" dy="-5"> mm</tspan><tspan font-size="14" dy="-9">2</tspan><tspan font-size="22" dy="9">)</tspan></text>
<text x="1026.6" y="565.3" font-size="27.5" text-anchor="start" font-weight="bold" fill="#000">c</text>
<path d="M1148.0,1031.5 V1022.0 H1843.0 V1031.5" fill="none" stroke="#231f20" stroke-width="3.3" stroke-linecap="round"/>
<line x1="1287.0" y1="1022.0" x2="1287.0" y2="1031.5" stroke="#231f20" stroke-width="3.3" stroke-linecap="round"/>
<line x1="1426.0" y1="1022.0" x2="1426.0" y2="1031.5" stroke="#231f20" stroke-width="3.3" stroke-linecap="round"/>
<line x1="1565.0" y1="1022.0" x2="1565.0" y2="1031.5" stroke="#231f20" stroke-width="3.3" stroke-linecap="round"/>
<line x1="1704.0" y1="1022.0" x2="1704.0" y2="1031.5" stroke="#231f20" stroke-width="3.3" stroke-linecap="round"/>
<text x="0" y="0" transform="translate(1132.40,1049.70) scale(1.0392,1)" fill="#231f20"><tspan font-size="21.6" dy="0">4.0</tspan></text>
<text x="0" y="0" transform="translate(1271.40,1049.70) scale(1.0392,1)" fill="#231f20"><tspan font-size="21.6" dy="0">3.5</tspan></text>
<text x="0" y="0" transform="translate(1410.40,1049.70) scale(1.0392,1)" fill="#231f20"><tspan font-size="21.6" dy="0">3.0</tspan></text>
<text x="0" y="0" transform="translate(1549.40,1049.70) scale(1.0392,1)" fill="#231f20"><tspan font-size="21.6" dy="0">2.5</tspan></text>
<text x="0" y="0" transform="translate(1688.40,1049.70) scale(1.0392,1)" fill="#231f20"><tspan font-size="21.6" dy="0">2.0</tspan></text>
<text x="0" y="0" transform="translate(1827.40,1049.70) scale(1.0392,1)" fill="#231f20"><tspan font-size="21.6" dy="0">1.5</tspan></text>
<path d="M1963.2,645.7 H1951.5 V1041.7 H1963.2" fill="none" stroke="#231f20" stroke-width="3.2" stroke-linecap="round"/>
<line x1="1951.5" y1="744.7" x2="1963.2" y2="744.7" stroke="#231f20" stroke-width="2.8" stroke-linecap="round"/>
<line x1="1951.5" y1="843.7" x2="1963.2" y2="843.7" stroke="#231f20" stroke-width="2.8" stroke-linecap="round"/>
<line x1="1951.5" y1="942.7" x2="1963.2" y2="942.7" stroke="#231f20" stroke-width="2.8" stroke-linecap="round"/>
<text x="0" y="0" transform="translate(1968.10,653.00) scale(0.9561,1)" fill="#231f20"><tspan font-size="20.5" dy="0">0</tspan></text>
<text x="0" y="0" transform="translate(1968.10,752.00) scale(0.9737,1)" fill="#231f20"><tspan font-size="20.5" dy="0">20</tspan></text>
<text x="0" y="0" transform="translate(1968.10,851.00) scale(0.9737,1)" fill="#231f20"><tspan font-size="20.5" dy="0">40</tspan></text>
<text x="0" y="0" transform="translate(1968.10,950.00) scale(0.9737,1)" fill="#231f20"><tspan font-size="20.5" dy="0">60</tspan></text>
<text x="0" y="0" transform="translate(1968.10,1049.00) scale(0.9737,1)" fill="#231f20"><tspan font-size="20.5" dy="0">80</tspan></text>
<text x="0" y="0" font-size="18.6" text-anchor="middle" fill="#231f20" transform="translate(1934.2,842.3) rotate(-90) scale(0.9836,1)">Time (Mya)</text>
<text x="0" y="0" transform="translate(1146.00,1000.00) scale(0.9840,1)" fill="#231f20"><tspan font-size="22" dy="0">Absolute gyrification index (log</tspan><tspan font-size="14" dy="5">10</tspan><tspan font-size="22" dy="-5"> GI)</tspan></text>
<text x="1026.6" y="1094.0" font-size="27.5" text-anchor="start" font-weight="bold" fill="#000">d</text>
<path d="M1100.8,1553.5 V1544.0 H1809.6 V1553.5" fill="none" stroke="#231f20" stroke-width="3.3" stroke-linecap="round"/>
<line x1="1278.0" y1="1544.0" x2="1278.0" y2="1553.5" stroke="#231f20" stroke-width="3.3" stroke-linecap="round"/>
<line x1="1455.2" y1="1544.0" x2="1455.2" y2="1553.5" stroke="#231f20" stroke-width="3.3" stroke-linecap="round"/>
<line x1="1632.4" y1="1544.0" x2="1632.4" y2="1553.5" stroke="#231f20" stroke-width="3.3" stroke-linecap="round"/>
<text x="0" y="0" transform="translate(1085.20,1571.70) scale(1.0392,1)" fill="#231f20"><tspan font-size="21.6" dy="0">4.0</tspan></text>
<text x="0" y="0" transform="translate(1262.40,1571.70) scale(1.0392,1)" fill="#231f20"><tspan font-size="21.6" dy="0">3.5</tspan></text>
<text x="0" y="0" transform="translate(1439.60,1571.70) scale(1.0392,1)" fill="#231f20"><tspan font-size="21.6" dy="0">3.0</tspan></text>
<text x="0" y="0" transform="translate(1616.80,1571.70) scale(1.0392,1)" fill="#231f20"><tspan font-size="21.6" dy="0">2.5</tspan></text>
<text x="0" y="0" transform="translate(1794.00,1571.70) scale(1.0392,1)" fill="#231f20"><tspan font-size="21.6" dy="0">2.0</tspan></text>
<path d="M1963.2,1167.1 H1951.5 V1563.1 H1963.2" fill="none" stroke="#231f20" stroke-width="3.2" stroke-linecap="round"/>
<line x1="1951.5" y1="1266.1" x2="1963.2" y2="1266.1" stroke="#231f20" stroke-width="2.8" stroke-linecap="round"/>
<line x1="1951.5" y1="1365.1" x2="1963.2" y2="1365.1" stroke="#231f20" stroke-width="2.8" stroke-linecap="round"/>
<line x1="1951.5" y1="1464.1" x2="1963.2" y2="1464.1" stroke="#231f20" stroke-width="2.8" stroke-linecap="round"/>
<text x="0" y="0" transform="translate(1968.10,1174.40) scale(0.9561,1)" fill="#231f20"><tspan font-size="20.5" dy="0">0</tspan></text>
<text x="0" y="0" transform="translate(1968.10,1273.40) scale(0.9737,1)" fill="#231f20"><tspan font-size="20.5" dy="0">20</tspan></text>
<text x="0" y="0" transform="translate(1968.10,1372.40) scale(0.9737,1)" fill="#231f20"><tspan font-size="20.5" dy="0">40</tspan></text>
<text x="0" y="0" transform="translate(1968.10,1471.40) scale(0.9737,1)" fill="#231f20"><tspan font-size="20.5" dy="0">60</tspan></text>
<text x="0" y="0" transform="translate(1968.10,1570.40) scale(0.9737,1)" fill="#231f20"><tspan font-size="20.5" dy="0">80</tspan></text>
<text x="0" y="0" font-size="18.6" text-anchor="middle" fill="#231f20" transform="translate(1934.2,1363.7) rotate(-90) scale(0.9836,1)">Time (Mya)</text>
<text x="0" y="0" transform="translate(1101.00,1526.80) scale(0.9913,1)" fill="#231f20"><tspan font-size="22" dy="0">Folding length (log</tspan><tspan font-size="14" dy="5">10</tspan><tspan font-size="22" dy="-5"> mm)</tspan></text>
<polyline points="1064.4,106.1 1193.0,137.1 1226.2,149.4 1286.6,180.3 1329.8,203.5 1362.0,229.0 1383.0,244.5 1396.8,254.5" fill="none" stroke="#a3a3a3" stroke-width="1.5" stroke-linejoin="round" stroke-linecap="butt"/>
<polyline points="1193.0,137.1 1220.3,117.9 1226.9,106.0" fill="none" stroke="#a3a3a3" stroke-width="1.5" stroke-linejoin="round" stroke-linecap="butt"/>
<polyline points="1220.3,117.9 1231.3,106.0" fill="none" stroke="#a3a3a3" stroke-width="1.5" stroke-linejoin="round" stroke-linecap="butt"/>
<polyline points="1220.3,117.9 1224.5,106.0" fill="none" stroke="#a3a3a3" stroke-width="1.5" stroke-linejoin="round" stroke-linecap="butt"/>
<polyline points="1226.2,149.4 1251.3,119.4 1253.5,106.0" fill="none" stroke="#a3a3a3" stroke-width="1.5" stroke-linejoin="round" stroke-linecap="butt"/>
<polyline points="1251.3,119.4 1258.7,106.0" fill="none" stroke="#a3a3a3" stroke-width="1.5" stroke-linejoin="round" stroke-linecap="butt"/>
<polyline points="1286.6,180.3 1281.6,106.0" fill="none" stroke="#a3a3a3" stroke-width="1.5" stroke-linejoin="round" stroke-linecap="butt"/>
<polyline points="1329.8,203.5 1345.3,177.0 1364.8,150.5 1379.5,128.0" fill="none" stroke="#a3a3a3" stroke-width="1.5" stroke-linejoin="round" stroke-linecap="butt"/>
<polyline points="1322.1,106.0 1334.0,112.7 1358.1,135.1" fill="none" stroke="#a3a3a3" stroke-width="1.5" stroke-linejoin="round" stroke-linecap="butt"/>
<polyline points="1334.0,112.7 1336.1,105.7" fill="none" stroke="#a3a3a3" stroke-width="1.5" stroke-linejoin="round" stroke-linecap="butt"/>
<polyline points="1338.2,105.7 1338.9,114.8 1364.8,132.3 1369.0,143.5 1373.2,161.0" fill="none" stroke="#a3a3a3" stroke-width="1.5" stroke-linejoin="round" stroke-linecap="butt"/>
<polyline points="1357.8,105.7 1379.5,127.4" fill="none" stroke="#a3a3a3" stroke-width="1.5" stroke-linejoin="round" stroke-linecap="butt"/>
<polyline points="1360.2,105.7 1379.5,127.4" fill="none" stroke="#a3a3a3" stroke-width="1.5" stroke-linejoin="round" stroke-linecap="butt"/>
<polyline points="1362.4,105.7 1379.5,127.4" fill="none" stroke="#a3a3a3" stroke-width="1.5" stroke-linejoin="round" stroke-linecap="butt"/>
<polyline points="1364.6,105.7 1379.5,127.4" fill="none" stroke="#a3a3a3" stroke-width="1.5" stroke-linejoin="round" stroke-linecap="butt"/>
<polyline points="1370.4,105.7 1379.5,127.4" fill="none" stroke="#a3a3a3" stroke-width="1.5" stroke-linejoin="round" stroke-linecap="butt"/>
<polyline points="1381.6,105.7 1379.5,127.4" fill="none" stroke="#a3a3a3" stroke-width="1.5" stroke-linejoin="round" stroke-linecap="butt"/>
<polyline points="1379.5,127.4 1383.0,147.0 1380.2,168.0" fill="none" stroke="#a3a3a3" stroke-width="1.5" stroke-linejoin="round" stroke-linecap="butt"/>
<polyline points="1379.5,127.4 1394.2,147.0" fill="none" stroke="#a3a3a3" stroke-width="1.5" stroke-linejoin="round" stroke-linecap="butt"/>
<polyline points="1364.8,132.3 1387.2,105.7" fill="none" stroke="#a3a3a3" stroke-width="1.5" stroke-linejoin="round" stroke-linecap="butt"/>
<polyline points="1369.0,143.5 1390.0,115.5 1392.0,105.7" fill="none" stroke="#a3a3a3" stroke-width="1.5" stroke-linejoin="round" stroke-linecap="butt"/>
<polyline points="1383.0,105.7 1406.8,129.5 1435.5,151.2 1488.7,179.2 1550.0,211.0" fill="none" stroke="#a3a3a3" stroke-width="1.5" stroke-linejoin="round" stroke-linecap="butt"/>
<polyline points="1396.9,105.7 1395.5,119.0" fill="none" stroke="#a3a3a3" stroke-width="1.5" stroke-linejoin="round" stroke-linecap="butt"/>
<polyline points="1399.5,105.7 1397.0,125.0" fill="none" stroke="#a3a3a3" stroke-width="1.5" stroke-linejoin="round" stroke-linecap="butt"/>
<polyline points="1409.6,105.7 1418.0,119.0 1419.4,140.0 1418.0,168.0" fill="none" stroke="#a3a3a3" stroke-width="1.5" stroke-linejoin="round" stroke-linecap="butt"/>
<polyline points="1414.5,105.7 1408.2,129.5 1397.0,143.5" fill="none" stroke="#a3a3a3" stroke-width="1.5" stroke-linejoin="round" stroke-linecap="butt"/>
<polyline points="1429.2,105.7 1416.6,122.5 1397.0,143.5" fill="none" stroke="#a3a3a3" stroke-width="1.5" stroke-linejoin="round" stroke-linecap="butt"/>
<polyline points="1443.2,105.7 1427.0,140.0 1418.0,168.0 1414.0,190.0" fill="none" stroke="#a3a3a3" stroke-width="1.5" stroke-linejoin="round" stroke-linecap="butt"/>
<polyline points="1427.8,112.0 1453.0,133.0" fill="none" stroke="#a3a3a3" stroke-width="1.5" stroke-linejoin="round" stroke-linecap="butt"/>
<polyline points="1386.3,105.7 1394.0,146.0" fill="none" stroke="#a3a3a3" stroke-width="1.5" stroke-linejoin="round" stroke-linecap="butt"/>
<polyline points="1377.0,105.7 1388.0,130.0 1394.0,146.0" fill="none" stroke="#a3a3a3" stroke-width="1.5" stroke-linejoin="round" stroke-linecap="butt"/>
<polyline points="1412.9,105.7 1419.5,137.0" fill="none" stroke="#a3a3a3" stroke-width="1.5" stroke-linejoin="round" stroke-linecap="butt"/>
<polyline points="1416.0,105.7 1403.0,126.0 1394.5,146.0" fill="none" stroke="#a3a3a3" stroke-width="1.5" stroke-linejoin="round" stroke-linecap="butt"/>
<polyline points="1420.0,105.7 1409.0,121.0 1396.0,142.0" fill="none" stroke="#a3a3a3" stroke-width="1.5" stroke-linejoin="round" stroke-linecap="butt"/>
<polyline points="1401.5,105.7 1399.0,118.0" fill="none" stroke="#a3a3a3" stroke-width="1.5" stroke-linejoin="round" stroke-linecap="butt"/>
<polyline points="1384.5,105.7 1372.0,131.0 1366.0,146.0" fill="none" stroke="#a3a3a3" stroke-width="1.5" stroke-linejoin="round" stroke-linecap="butt"/>
<polyline points="1367.0,105.7 1374.5,126.0 1379.5,128.0" fill="none" stroke="#a3a3a3" stroke-width="1.5" stroke-linejoin="round" stroke-linecap="butt"/>
<polyline points="1408.0,105.7 1417.0,121.0" fill="none" stroke="#a3a3a3" stroke-width="1.5" stroke-linejoin="round" stroke-linecap="butt"/>
<polyline points="1431.0,105.7 1426.5,118.0" fill="none" stroke="#a3a3a3" stroke-width="1.5" stroke-linejoin="round" stroke-linecap="butt"/>
<polyline points="1424.5,105.7 1427.8,112.0" fill="none" stroke="#a3a3a3" stroke-width="1.5" stroke-linejoin="round" stroke-linecap="butt"/>
<polyline points="1523.5,106.0 1543.4,161.5 1553.7,195.4 1550.8,211.7" fill="none" stroke="#a3a3a3" stroke-width="1.5" stroke-linejoin="round" stroke-linecap="butt"/>
<polyline points="1555.2,106.0 1575.9,116.4 1598.8,106.0" fill="none" stroke="#a3a3a3" stroke-width="1.5" stroke-linejoin="round" stroke-linecap="butt"/>
<polyline points="1575.9,116.4 1568.5,134.9 1553.7,195.4" fill="none" stroke="#a3a3a3" stroke-width="1.5" stroke-linejoin="round" stroke-linecap="butt"/>
<polyline points="1572.9,106.0 1587.7,124.5 1621.7,182.1 1640.9,207.3 1680.0,252.3 1696.2,270.8" fill="none" stroke="#a3a3a3" stroke-width="1.5" stroke-linejoin="round" stroke-linecap="butt"/>
<polyline points="1583.3,106.0 1606.9,189.5 1634.0,280.0 1652.0,344.5 1656.5,359.5" fill="none" stroke="#a3a3a3" stroke-width="1.5" stroke-linejoin="round" stroke-linecap="butt"/>
<polyline points="1603.3,105.7 1555.2,197.0" fill="none" stroke="#a3a3a3" stroke-width="1.5" stroke-linejoin="round" stroke-linecap="butt"/>
<polyline points="1612.7,105.7 1621.6,180.3" fill="none" stroke="#a3a3a3" stroke-width="1.5" stroke-linejoin="round" stroke-linecap="butt"/>
<polyline points="1622.2,105.7 1635.5,177.6 1638.2,190.0 1640.9,207.3" fill="none" stroke="#a3a3a3" stroke-width="1.5" stroke-linejoin="round" stroke-linecap="butt"/>
<polyline points="1636.0,105.7 1646.0,168.7" fill="none" stroke="#a3a3a3" stroke-width="1.5" stroke-linejoin="round" stroke-linecap="butt"/>
<polyline points="1656.5,105.7 1635.5,177.6" fill="none" stroke="#a3a3a3" stroke-width="1.5" stroke-linejoin="round" stroke-linecap="butt"/>
<polyline points="1656.5,105.7 1664.8,146.5" fill="none" stroke="#a3a3a3" stroke-width="1.5" stroke-linejoin="round" stroke-linecap="butt"/>
<polyline points="1671.5,105.7 1664.3,146.0" fill="none" stroke="#a3a3a3" stroke-width="1.5" stroke-linejoin="round" stroke-linecap="butt"/>
<polyline points="1670.9,105.7 1660.9,154.3 1651.5,163.7" fill="none" stroke="#a3a3a3" stroke-width="1.5" stroke-linejoin="round" stroke-linecap="butt"/>
<polyline points="1645.4,169.3 1653.2,161.0 1665.4,146.0 1693.0,116.6 1697.5,111.0 1708.0,106.0" fill="none" stroke="#a3a3a3" stroke-width="1.5" stroke-linejoin="round" stroke-linecap="butt"/>
<polyline points="1697.5,111.0 1702.5,105.7" fill="none" stroke="#a3a3a3" stroke-width="1.5" stroke-linejoin="round" stroke-linecap="butt"/>
<polyline points="1677.6,105.7 1691.1,113.3" fill="none" stroke="#a3a3a3" stroke-width="1.5" stroke-linejoin="round" stroke-linecap="butt"/>
<polyline points="1694.2,139.9 1710.0,130.0" fill="none" stroke="#a3a3a3" stroke-width="1.5" stroke-linejoin="round" stroke-linecap="butt"/>
<polyline points="1692.5,141.5 1747.1,106.0" fill="none" stroke="#a3a3a3" stroke-width="1.5" stroke-linejoin="round" stroke-linecap="butt"/>
<polyline points="1696.2,270.8 1728.7,246.4 1809.2,176.2 1900.0,117.9 1918.0,106.0" fill="none" stroke="#a3a3a3" stroke-width="1.5" stroke-linejoin="round" stroke-linecap="butt"/>
<polyline points="1809.2,176.2 1786.3,106.0" fill="none" stroke="#a3a3a3" stroke-width="1.5" stroke-linejoin="round" stroke-linecap="butt"/>
<polyline points="1728.7,246.4 1748.0,200.0 1760.4,111.0 1762.0,106.0" fill="none" stroke="#a3a3a3" stroke-width="1.5" stroke-linejoin="round" stroke-linecap="butt"/>
<polyline points="1748.6,106.0 1760.4,217.6" fill="none" stroke="#a3a3a3" stroke-width="1.5" stroke-linejoin="round" stroke-linecap="butt"/>
<polyline points="1760.4,111.0 1776.7,191.0" fill="none" stroke="#a3a3a3" stroke-width="1.5" stroke-linejoin="round" stroke-linecap="butt"/>
<polyline points="1776.7,191.0 1836.5,106.0" fill="none" stroke="#a3a3a3" stroke-width="1.5" stroke-linejoin="round" stroke-linecap="butt"/>
<polyline points="1776.7,191.0 1766.4,213.2 1728.0,292.9 1699.9,335.0" fill="none" stroke="#a3a3a3" stroke-width="1.5" stroke-linejoin="round" stroke-linecap="butt"/>
<polyline points="1728.0,292.9 1736.8,241.2 1762.0,106.0" fill="none" stroke="#a3a3a3" stroke-width="1.5" stroke-linejoin="round" stroke-linecap="butt"/>
<polyline points="1696.2,270.8 1679.2,304.8 1656.5,359.5" fill="none" stroke="#a3a3a3" stroke-width="1.5" stroke-linejoin="round" stroke-linecap="butt"/>
<polyline points="1656.5,359.5 1647.5,416.5" fill="none" stroke="#a3a3a3" stroke-width="1.5" stroke-linejoin="round" stroke-linecap="butt"/>
<polyline points="1647.5,416.5 1727.0,294.2" fill="none" stroke="#a3a3a3" stroke-width="1.5" stroke-linejoin="round" stroke-linecap="butt"/>
<polyline points="1605.5,467.5 1638.5,428.5 1647.5,416.5" fill="none" stroke="#a3a3a3" stroke-width="1.5" stroke-linejoin="round" stroke-linecap="butt"/>
<polyline points="1500.5,338.5 1605.5,467.5" fill="none" stroke="#a3a3a3" stroke-width="1.5" stroke-linejoin="round" stroke-linecap="butt"/>
<polyline points="1294.1,1167.0 1306.0,1173.7 1330.1,1196.1" fill="none" stroke="#a3a3a3" stroke-width="1.5" stroke-linejoin="round" stroke-linecap="butt"/>
<polyline points="1306.0,1173.7 1308.1,1166.7" fill="none" stroke="#a3a3a3" stroke-width="1.5" stroke-linejoin="round" stroke-linecap="butt"/>
<polyline points="1310.2,1166.7 1310.9,1175.8 1336.8,1193.3 1341.0,1204.5 1345.2,1222.0" fill="none" stroke="#a3a3a3" stroke-width="1.5" stroke-linejoin="round" stroke-linecap="butt"/>
<polyline points="1329.8,1166.7 1351.5,1188.4" fill="none" stroke="#a3a3a3" stroke-width="1.5" stroke-linejoin="round" stroke-linecap="butt"/>
<polyline points="1332.2,1166.7 1351.5,1188.4" fill="none" stroke="#a3a3a3" stroke-width="1.5" stroke-linejoin="round" stroke-linecap="butt"/>
<polyline points="1334.4,1166.7 1351.5,1188.4" fill="none" stroke="#a3a3a3" stroke-width="1.5" stroke-linejoin="round" stroke-linecap="butt"/>
<polyline points="1336.6,1166.7 1351.5,1188.4" fill="none" stroke="#a3a3a3" stroke-width="1.5" stroke-linejoin="round" stroke-linecap="butt"/>
<polyline points="1342.4,1166.7 1351.5,1188.4" fill="none" stroke="#a3a3a3" stroke-width="1.5" stroke-linejoin="round" stroke-linecap="butt"/>
<polyline points="1353.6,1166.7 1351.5,1188.4" fill="none" stroke="#a3a3a3" stroke-width="1.5" stroke-linejoin="round" stroke-linecap="butt"/>
<polyline points="1351.5,1188.4 1355.0,1208.0 1352.2,1229.0" fill="none" stroke="#a3a3a3" stroke-width="1.5" stroke-linejoin="round" stroke-linecap="butt"/>
<polyline points="1351.5,1188.4 1366.2,1208.0" fill="none" stroke="#a3a3a3" stroke-width="1.5" stroke-linejoin="round" stroke-linecap="butt"/>
<polyline points="1336.8,1193.3 1359.2,1166.7" fill="none" stroke="#a3a3a3" stroke-width="1.5" stroke-linejoin="round" stroke-linecap="butt"/>
<polyline points="1341.0,1204.5 1362.0,1176.5 1364.0,1166.7" fill="none" stroke="#a3a3a3" stroke-width="1.5" stroke-linejoin="round" stroke-linecap="butt"/>
<polyline points="1368.9,1166.7 1367.5,1180.0" fill="none" stroke="#a3a3a3" stroke-width="1.5" stroke-linejoin="round" stroke-linecap="butt"/>
<polyline points="1371.5,1166.7 1369.0,1186.0" fill="none" stroke="#a3a3a3" stroke-width="1.5" stroke-linejoin="round" stroke-linecap="butt"/>
<polyline points="1381.6,1166.7 1390.0,1180.0 1391.4,1201.0 1390.0,1229.0" fill="none" stroke="#a3a3a3" stroke-width="1.5" stroke-linejoin="round" stroke-linecap="butt"/>
<polyline points="1386.5,1166.7 1380.2,1190.5 1369.0,1204.5" fill="none" stroke="#a3a3a3" stroke-width="1.5" stroke-linejoin="round" stroke-linecap="butt"/>
<polyline points="1401.2,1166.7 1388.6,1183.5 1369.0,1204.5" fill="none" stroke="#a3a3a3" stroke-width="1.5" stroke-linejoin="round" stroke-linecap="butt"/>
<polyline points="1415.2,1166.7 1399.0,1201.0 1390.0,1229.0 1386.0,1251.0" fill="none" stroke="#a3a3a3" stroke-width="1.5" stroke-linejoin="round" stroke-linecap="butt"/>
<polyline points="1358.3,1166.7 1366.0,1207.0" fill="none" stroke="#a3a3a3" stroke-width="1.5" stroke-linejoin="round" stroke-linecap="butt"/>
<polyline points="1349.0,1166.7 1360.0,1191.0 1366.0,1207.0" fill="none" stroke="#a3a3a3" stroke-width="1.5" stroke-linejoin="round" stroke-linecap="butt"/>
<polyline points="1384.9,1166.7 1391.5,1198.0" fill="none" stroke="#a3a3a3" stroke-width="1.5" stroke-linejoin="round" stroke-linecap="butt"/>
<polyline points="1388.0,1166.7 1375.0,1187.0 1366.5,1207.0" fill="none" stroke="#a3a3a3" stroke-width="1.5" stroke-linejoin="round" stroke-linecap="butt"/>
<polyline points="1392.0,1166.7 1381.0,1182.0 1368.0,1203.0" fill="none" stroke="#a3a3a3" stroke-width="1.5" stroke-linejoin="round" stroke-linecap="butt"/>
<polyline points="1373.5,1166.7 1371.0,1179.0" fill="none" stroke="#a3a3a3" stroke-width="1.5" stroke-linejoin="round" stroke-linecap="butt"/>
<polyline points="1356.5,1166.7 1344.0,1192.0 1338.0,1207.0" fill="none" stroke="#a3a3a3" stroke-width="1.5" stroke-linejoin="round" stroke-linecap="butt"/>
<polyline points="1339.0,1166.7 1346.5,1187.0 1351.5,1189.0" fill="none" stroke="#a3a3a3" stroke-width="1.5" stroke-linejoin="round" stroke-linecap="butt"/>
<polyline points="1380.0,1166.7 1389.0,1182.0" fill="none" stroke="#a3a3a3" stroke-width="1.5" stroke-linejoin="round" stroke-linecap="butt"/>
<polyline points="1403.0,1166.7 1398.5,1179.0" fill="none" stroke="#a3a3a3" stroke-width="1.5" stroke-linejoin="round" stroke-linecap="butt"/>
<polyline points="1396.5,1166.7 1399.8,1173.0" fill="none" stroke="#a3a3a3" stroke-width="1.5" stroke-linejoin="round" stroke-linecap="butt"/>
<polyline points="1064.8,1167.2 1176.8,1197.6 1205.6,1210.4 1261.6,1242.4 1304.3,1264.4 1345.1,1296.9 1369.8,1315.6" fill="none" stroke="#a3a3a3" stroke-width="1.5" stroke-linejoin="round" stroke-linecap="butt"/>
<polyline points="1176.8,1197.6 1203.2,1178.4 1214.4,1167.2" fill="none" stroke="#a3a3a3" stroke-width="1.5" stroke-linejoin="round" stroke-linecap="butt"/>
<polyline points="1203.2,1178.4 1207.2,1167.2" fill="none" stroke="#a3a3a3" stroke-width="1.5" stroke-linejoin="round" stroke-linecap="butt"/>
<polyline points="1205.6,1210.4 1222.4,1180.0 1225.6,1167.2" fill="none" stroke="#a3a3a3" stroke-width="1.5" stroke-linejoin="round" stroke-linecap="butt"/>
<polyline points="1222.4,1180.0 1223.6,1167.2" fill="none" stroke="#a3a3a3" stroke-width="1.5" stroke-linejoin="round" stroke-linecap="butt"/>
<polyline points="1261.6,1242.4 1248.0,1167.2" fill="none" stroke="#a3a3a3" stroke-width="1.5" stroke-linejoin="round" stroke-linecap="butt"/>
<polyline points="1304.3,1264.4 1339.2,1210.2 1353.0,1186.6" fill="none" stroke="#a3a3a3" stroke-width="1.5" stroke-linejoin="round" stroke-linecap="butt"/>
<polyline points="1355.0,1166.7 1378.8,1190.5 1407.5,1212.2 1440.0,1228.0 1484.8,1249.6 1529.6,1272.0" fill="none" stroke="#a3a3a3" stroke-width="1.5" stroke-linejoin="round" stroke-linecap="butt"/>
<polyline points="1500.8,1167.2 1531.2,1256.0" fill="none" stroke="#a3a3a3" stroke-width="1.5" stroke-linejoin="round" stroke-linecap="butt"/>
<polyline points="1531.2,1256.0 1552.0,1177.6 1558.4,1167.2" fill="none" stroke="#a3a3a3" stroke-width="1.5" stroke-linejoin="round" stroke-linecap="butt"/>
<polyline points="1531.2,1256.0 1587.2,1180.8 1597.0,1167.2" fill="none" stroke="#a3a3a3" stroke-width="1.5" stroke-linejoin="round" stroke-linecap="butt"/>
<polyline points="1529.6,1167.2 1552.0,1177.6 1574.4,1167.2" fill="none" stroke="#a3a3a3" stroke-width="1.5" stroke-linejoin="round" stroke-linecap="butt"/>
<polyline points="1536.0,1167.2 1579.2,1284.8 1627.6,1419.8" fill="none" stroke="#a3a3a3" stroke-width="1.5" stroke-linejoin="round" stroke-linecap="butt"/>
<polyline points="1542.4,1180.8 1603.2,1268.8 1670.4,1332.0" fill="none" stroke="#a3a3a3" stroke-width="1.5" stroke-linejoin="round" stroke-linecap="butt"/>
<polyline points="1568.0,1167.2 1582.4,1241.6 1603.2,1268.8" fill="none" stroke="#a3a3a3" stroke-width="1.5" stroke-linejoin="round" stroke-linecap="butt"/>
<polyline points="1579.2,1167.2 1603.2,1267.2" fill="none" stroke="#a3a3a3" stroke-width="1.5" stroke-linejoin="round" stroke-linecap="butt"/>
<polyline points="1670.4,1332.0 1708.8,1307.2 1744.8,1278.4 1799.2,1237.6 1820.8,1225.6 1917.6,1167.2" fill="none" stroke="#a3a3a3" stroke-width="1.5" stroke-linejoin="round" stroke-linecap="butt"/>
<polyline points="1670.4,1332.0 1627.6,1419.8" fill="none" stroke="#a3a3a3" stroke-width="1.5" stroke-linejoin="round" stroke-linecap="butt"/>
<polyline points="1627.6,1419.8 1619.9,1477.9" fill="none" stroke="#a3a3a3" stroke-width="1.5" stroke-linejoin="round" stroke-linecap="butt"/>
<polyline points="1703.2,1355.4 1659.2,1420.0 1619.9,1477.9" fill="none" stroke="#a3a3a3" stroke-width="1.5" stroke-linejoin="round" stroke-linecap="butt"/>
<polyline points="1703.2,1354.4 1708.8,1307.2 1713.6,1272.0 1728.0,1167.2" fill="none" stroke="#a3a3a3" stroke-width="1.5" stroke-linejoin="round" stroke-linecap="butt"/>
<polyline points="1703.2,1354.4 1744.8,1278.4 1760.0,1252.0 1790.4,1209.6 1821.6,1167.2" fill="none" stroke="#a3a3a3" stroke-width="1.5" stroke-linejoin="round" stroke-linecap="butt"/>
<polyline points="1713.6,1272.0 1744.8,1167.2" fill="none" stroke="#a3a3a3" stroke-width="1.5" stroke-linejoin="round" stroke-linecap="butt"/>
<polyline points="1760.0,1252.0 1744.8,1167.2" fill="none" stroke="#a3a3a3" stroke-width="1.5" stroke-linejoin="round" stroke-linecap="butt"/>
<polyline points="1744.8,1278.4 1738.4,1167.2" fill="none" stroke="#a3a3a3" stroke-width="1.5" stroke-linejoin="round" stroke-linecap="butt"/>
<polyline points="1799.2,1237.6 1776.0,1167.2" fill="none" stroke="#a3a3a3" stroke-width="1.5" stroke-linejoin="round" stroke-linecap="butt"/>
<polyline points="1684.8,1202.4 1747.2,1167.2" fill="none" stroke="#a3a3a3" stroke-width="1.5" stroke-linejoin="round" stroke-linecap="butt"/>
<polyline points="1680.0,1188.8 1702.4,1167.2" fill="none" stroke="#a3a3a3" stroke-width="1.5" stroke-linejoin="round" stroke-linecap="butt"/>
<polyline points="1622.4,1167.2 1634.4,1230.4" fill="none" stroke="#a3a3a3" stroke-width="1.5" stroke-linejoin="round" stroke-linecap="butt"/>
<polyline points="1620.8,1241.6 1646.4,1167.2" fill="none" stroke="#a3a3a3" stroke-width="1.5" stroke-linejoin="round" stroke-linecap="butt"/>
<polyline points="1641.6,1229.0 1664.0,1167.2" fill="none" stroke="#a3a3a3" stroke-width="1.5" stroke-linejoin="round" stroke-linecap="butt"/>
<polyline points="1649.0,1224.0 1657.6,1208.0 1659.2,1167.2" fill="none" stroke="#a3a3a3" stroke-width="1.5" stroke-linejoin="round" stroke-linecap="butt"/>
<polyline points="1651.2,1167.2 1657.6,1208.0 1700.0,1168.8" fill="none" stroke="#a3a3a3" stroke-width="1.5" stroke-linejoin="round" stroke-linecap="butt"/>
<polyline points="1670.4,1167.2 1684.8,1174.4" fill="none" stroke="#a3a3a3" stroke-width="1.5" stroke-linejoin="round" stroke-linecap="butt"/>
<polyline points="1475.7,1398.8 1579.3,1528.3" fill="none" stroke="#a3a3a3" stroke-width="1.5" stroke-linejoin="round" stroke-linecap="butt"/>
<polyline points="1579.3,1528.3 1619.9,1477.9" fill="none" stroke="#a3a3a3" stroke-width="1.5" stroke-linejoin="round" stroke-linecap="butt"/>
<polyline points="1064.8,645.2 1285.7,675.8 1344.9,688.0 1415.1,720.5 1455.0,741.9 1472.9,760.0 1500.0,787.0 1506.0,794.0" fill="none" stroke="#ababab" stroke-width="1.2" stroke-linejoin="round" stroke-linecap="butt"/>
<polyline points="1285.7,675.8 1328.7,656.2 1350.8,645.2" fill="none" stroke="#ababab" stroke-width="1.2" stroke-linejoin="round" stroke-linecap="butt"/>
<polyline points="1328.7,656.2 1331.6,645.2" fill="none" stroke="#ababab" stroke-width="1.2" stroke-linejoin="round" stroke-linecap="butt"/>
<polyline points="1344.9,688.0 1421.0,661.4 1437.3,651.8 1453.5,645.0" fill="none" stroke="#ababab" stroke-width="1.2" stroke-linejoin="round" stroke-linecap="butt"/>
<polyline points="1414.9,720.1 1430.6,667.9 1436.5,649.0 1435.6,645.0" fill="none" stroke="#ababab" stroke-width="1.2" stroke-linejoin="round" stroke-linecap="butt"/>
<polyline points="1454.9,742.6 1474.7,718.3 1517.9,667.0 1533.2,655.3 1552.1,645.0" fill="none" stroke="#ababab" stroke-width="1.2" stroke-linejoin="round" stroke-linecap="butt"/>
<polyline points="1474.7,718.3 1482.8,694.0 1481.0,684.1 1470.2,669.7 1457.6,657.1 1443.2,645.0" fill="none" stroke="#ababab" stroke-width="1.2" stroke-linejoin="round" stroke-linecap="butt"/>
<polyline points="1482.8,694.0 1486.4,688.6 1517.9,667.9 1549.4,645.4" fill="none" stroke="#ababab" stroke-width="1.2" stroke-linejoin="round" stroke-linecap="butt"/>
<polyline points="1481.0,684.1 1500.8,645.0" fill="none" stroke="#ababab" stroke-width="1.2" stroke-linejoin="round" stroke-linecap="butt"/>
<polyline points="1517.9,645.0 1520.6,698.5" fill="none" stroke="#ababab" stroke-width="1.2" stroke-linejoin="round" stroke-linecap="butt"/>
<polyline points="1500.8,645.0 1562.0,688.5 1580.0,700.0 1651.7,749.5" fill="none" stroke="#ababab" stroke-width="1.2" stroke-linejoin="round" stroke-linecap="butt"/>
<polyline points="1549.4,656.2 1562.0,688.5" fill="none" stroke="#ababab" stroke-width="1.2" stroke-linejoin="round" stroke-linecap="butt"/>
<polyline points="1549.4,656.2 1559.3,645.0" fill="none" stroke="#ababab" stroke-width="1.2" stroke-linejoin="round" stroke-linecap="butt"/>
<polyline points="1400.0,649.0 1418.0,651.7 1437.8,670.6 1451.3,694.0" fill="none" stroke="#ababab" stroke-width="1.2" stroke-linejoin="round" stroke-linecap="butt"/>
<polyline points="1400.0,668.8 1419.8,661.6 1437.8,649.9 1454.0,645.4" fill="none" stroke="#ababab" stroke-width="1.2" stroke-linejoin="round" stroke-linecap="butt"/>
<polyline points="1418.0,651.7 1424.3,645.0" fill="none" stroke="#ababab" stroke-width="1.2" stroke-linejoin="round" stroke-linecap="butt"/>
<polyline points="1424.3,654.9 1428.8,645.0" fill="none" stroke="#ababab" stroke-width="1.2" stroke-linejoin="round" stroke-linecap="butt"/>
<polyline points="1437.8,670.6 1453.1,652.6" fill="none" stroke="#ababab" stroke-width="1.2" stroke-linejoin="round" stroke-linecap="butt"/>
<polyline points="1470.2,645.0 1467.0,667.0" fill="none" stroke="#ababab" stroke-width="1.2" stroke-linejoin="round" stroke-linecap="butt"/>
<polyline points="1472.0,645.0 1467.0,667.0" fill="none" stroke="#ababab" stroke-width="1.2" stroke-linejoin="round" stroke-linecap="butt"/>
<polyline points="1475.0,645.0 1470.2,669.7" fill="none" stroke="#ababab" stroke-width="1.2" stroke-linejoin="round" stroke-linecap="butt"/>
<polyline points="1479.2,645.0 1476.5,676.0" fill="none" stroke="#ababab" stroke-width="1.2" stroke-linejoin="round" stroke-linecap="butt"/>
<polyline points="1490.0,645.0 1470.2,669.7" fill="none" stroke="#ababab" stroke-width="1.2" stroke-linejoin="round" stroke-linecap="butt"/>
<polyline points="1493.0,645.0 1472.0,672.0" fill="none" stroke="#ababab" stroke-width="1.2" stroke-linejoin="round" stroke-linecap="butt"/>
<polyline points="1443.2,645.0 1463.0,667.0" fill="none" stroke="#ababab" stroke-width="1.2" stroke-linejoin="round" stroke-linecap="butt"/>
<polyline points="1454.0,645.0 1465.0,668.0" fill="none" stroke="#ababab" stroke-width="1.2" stroke-linejoin="round" stroke-linecap="butt"/>
<polyline points="1448.0,645.0 1466.0,666.0" fill="none" stroke="#ababab" stroke-width="1.2" stroke-linejoin="round" stroke-linecap="butt"/>
<polyline points="1483.0,645.0 1468.0,668.0" fill="none" stroke="#ababab" stroke-width="1.2" stroke-linejoin="round" stroke-linecap="butt"/>
<polyline points="1394.4,645.2 1437.3,671.0 1455.0,702.0" fill="none" stroke="#ababab" stroke-width="1.2" stroke-linejoin="round" stroke-linecap="butt"/>
<polyline points="1401.0,645.2 1418.0,652.6 1437.0,668.0" fill="none" stroke="#ababab" stroke-width="1.2" stroke-linejoin="round" stroke-linecap="butt"/>
<polyline points="1648.6,736.0 1626.5,645.0" fill="none" stroke="#ababab" stroke-width="1.2" stroke-linejoin="round" stroke-linecap="butt"/>
<polyline points="1659.1,739.7 1633.8,656.0 1616.0,645.0" fill="none" stroke="#ababab" stroke-width="1.2" stroke-linejoin="round" stroke-linecap="butt"/>
<polyline points="1633.8,656.0 1648.0,645.0" fill="none" stroke="#ababab" stroke-width="1.2" stroke-linejoin="round" stroke-linecap="butt"/>
<polyline points="1659.1,739.7 1728.6,645.0" fill="none" stroke="#ababab" stroke-width="1.2" stroke-linejoin="round" stroke-linecap="butt"/>
<polyline points="1769.4,679.9 1806.4,645.2" fill="none" stroke="#ababab" stroke-width="1.2" stroke-linejoin="round" stroke-linecap="butt"/>
<polyline points="1704.4,678.4 1729.5,645.2" fill="none" stroke="#ababab" stroke-width="1.2" stroke-linejoin="round" stroke-linecap="butt"/>
<polyline points="1729.5,645.2 1772.4,718.3 1790.8,746.4 1807.8,808.4" fill="none" stroke="#ababab" stroke-width="1.2" stroke-linejoin="round" stroke-linecap="butt"/>
<polyline points="1772.4,718.3 1771.0,684.3 1765.0,645.2" fill="none" stroke="#ababab" stroke-width="1.2" stroke-linejoin="round" stroke-linecap="butt"/>
<polyline points="1757.6,645.9 1764.0,820.0 1767.6,893.2" fill="none" stroke="#ababab" stroke-width="1.2" stroke-linejoin="round" stroke-linecap="butt"/>
<polyline points="1790.8,746.4 1824.1,669.5 1830.0,645.2" fill="none" stroke="#ababab" stroke-width="1.2" stroke-linejoin="round" stroke-linecap="butt"/>
<polyline points="1782.0,645.2 1804.9,728.6 1789.8,820.0 1787.4,834.4 1767.6,892.0" fill="none" stroke="#ababab" stroke-width="1.2" stroke-linejoin="round" stroke-linecap="butt"/>
<polyline points="1807.8,808.4 1825.6,786.2 1841.8,756.7 1861.0,715.3 1917.1,645.2" fill="none" stroke="#ababab" stroke-width="1.2" stroke-linejoin="round" stroke-linecap="butt"/>
<polyline points="1861.0,715.3 1835.9,645.2" fill="none" stroke="#ababab" stroke-width="1.2" stroke-linejoin="round" stroke-linecap="butt"/>
<polyline points="1841.8,756.7 1847.7,645.2" fill="none" stroke="#ababab" stroke-width="1.2" stroke-linejoin="round" stroke-linecap="butt"/>
<polyline points="1825.6,786.2 1852.1,645.2" fill="none" stroke="#ababab" stroke-width="1.2" stroke-linejoin="round" stroke-linecap="butt"/>
<polyline points="1807.8,808.4 1803.6,820.0 1744.2,955.6" fill="none" stroke="#ababab" stroke-width="1.2" stroke-linejoin="round" stroke-linecap="butt"/>
<polyline points="1828.5,645.2 1801.9,722.7 1788.6,787.7 1787.4,834.4" fill="none" stroke="#ababab" stroke-width="1.2" stroke-linejoin="round" stroke-linecap="butt"/>
<polyline points="1726.6,716.8 1748.7,645.2" fill="none" stroke="#ababab" stroke-width="1.2" stroke-linejoin="round" stroke-linecap="butt"/>
<polyline points="1737.0,705.0 1751.7,645.2" fill="none" stroke="#ababab" stroke-width="1.2" stroke-linejoin="round" stroke-linecap="butt"/>
<polyline points="1724.9,716.3 1742.0,645.2" fill="none" stroke="#ababab" stroke-width="1.2" stroke-linejoin="round" stroke-linecap="butt"/>
<polyline points="1745.0,645.2 1760.0,690.0" fill="none" stroke="#ababab" stroke-width="1.2" stroke-linejoin="round" stroke-linecap="butt"/>
<polyline points="1738.0,645.2 1758.0,700.0" fill="none" stroke="#ababab" stroke-width="1.2" stroke-linejoin="round" stroke-linecap="butt"/>
<polyline points="1603.8,877.0 1704.6,1006.6" fill="none" stroke="#ababab" stroke-width="1.2" stroke-linejoin="round" stroke-linecap="butt"/>
<polyline points="1704.6,1006.6 1744.2,955.6 1767.6,893.2" fill="none" stroke="#ababab" stroke-width="1.2" stroke-linejoin="round" stroke-linecap="butt"/>
<polyline points="1500.5,338.5 1526.0,280.0 1528.6,269.3 1550.8,219.0 1550.8,211.7 1562.6,205.0" fill="none" stroke="#1f1f1f" stroke-width="2.6" stroke-linejoin="round" stroke-linecap="butt"/>
<polyline points="1436.9,105.7 1457.0,137.8 1522.7,178.5 1562.6,205.0" fill="none" stroke="#1f1f1f" stroke-width="2.6" stroke-linejoin="round" stroke-linecap="butt"/>
<polyline points="1562.6,205.0 1573.7,202.1 1581.8,180.7 1618.0,106.0" fill="none" stroke="#1f1f1f" stroke-width="2.6" stroke-linejoin="round" stroke-linecap="butt"/>
<polyline points="1573.7,202.1 1625.4,184.4 1635.0,179.2 1692.5,141.5 1691.1,113.3 1696.4,110.8 1693.1,105.7" fill="none" stroke="#1f1f1f" stroke-width="2.6" stroke-linejoin="round" stroke-linecap="butt"/>
<polyline points="1396.8,254.5 1422.9,275.0 1460.0,304.7 1475.0,318.2 1500.5,338.5" fill="none" stroke="#ff0000" stroke-width="2.6" stroke-linejoin="round" stroke-linecap="butt"/>
<polyline points="1396.8,254.5 1399.6,211.3 1387.2,179.2" fill="none" stroke="#ff0000" stroke-width="2.6" stroke-linejoin="round" stroke-linecap="butt"/>
<polyline points="1387.2,179.2 1373.2,161.7 1358.5,135.1 1373.9,105.7" fill="none" stroke="#ff0000" stroke-width="2.6" stroke-linejoin="round" stroke-linecap="butt"/>
<polyline points="1387.2,179.2 1394.9,156.1 1396.6,145.6 1395.2,138.6 1394.9,126.0 1390.0,105.7" fill="none" stroke="#ff0000" stroke-width="2.6" stroke-linejoin="round" stroke-linecap="butt"/>
<polyline points="1399.6,211.3 1414.0,183.6 1415.2,182.0 1420.8,143.5 1424.3,117.6 1422.2,105.7" fill="none" stroke="#ff0000" stroke-width="2.6" stroke-linejoin="round" stroke-linecap="butt"/>
<polyline points="1603.8,877.0 1627.2,820.0 1652.3,758.2 1651.7,750.2 1659.7,744.0" fill="none" stroke="#1f1f1f" stroke-width="2.6" stroke-linejoin="round" stroke-linecap="butt"/>
<polyline points="1535.9,645.0 1539.0,646.8 1562.0,676.9 1605.5,707.7 1659.7,744.0" fill="none" stroke="#1f1f1f" stroke-width="2.6" stroke-linejoin="round" stroke-linecap="butt"/>
<polyline points="1659.7,744.0 1671.4,740.3 1718.8,723.7 1725.8,719.0 1769.4,679.9 1770.2,651.8 1773.1,649.6 1770.9,645.2" fill="none" stroke="#1f1f1f" stroke-width="2.6" stroke-linejoin="round" stroke-linecap="butt"/>
<polyline points="1671.4,740.3 1705.2,678.2 1722.5,645.0" fill="none" stroke="#1f1f1f" stroke-width="2.6" stroke-linejoin="round" stroke-linecap="butt"/>
<polyline points="1603.8,877.0 1530.0,815.0 1506.0,794.0 1499.9,760.0 1498.6,750.3" fill="none" stroke="#ff0000" stroke-width="2.6" stroke-linejoin="round" stroke-linecap="butt"/>
<polyline points="1498.6,750.3 1473.8,718.3 1463.0,708.4" fill="none" stroke="#ff0000" stroke-width="2.6" stroke-linejoin="round" stroke-linecap="butt"/>
<polyline points="1463.0,708.4 1454.9,701.2 1444.1,673.8 1463.5,645.0" fill="none" stroke="#ff0000" stroke-width="2.6" stroke-linejoin="round" stroke-linecap="butt"/>
<polyline points="1463.0,708.4 1462.1,687.7 1471.1,670.2 1463.5,645.0" fill="none" stroke="#ff0000" stroke-width="2.6" stroke-linejoin="round" stroke-linecap="butt"/>
<polyline points="1498.6,750.3 1515.2,721.5 1537.7,645.0" fill="none" stroke="#ff0000" stroke-width="2.6" stroke-linejoin="round" stroke-linecap="butt"/>
<polyline points="1475.2,1399.2 1492.8,1360.0 1508.8,1321.6 1529.6,1278.4 1529.6,1272.8 1542.4,1266.4" fill="none" stroke="#1f1f1f" stroke-width="2.6" stroke-linejoin="round" stroke-linecap="butt"/>
<polyline points="1408.2,1167.4 1427.8,1198.4 1440.0,1205.6 1484.8,1232.0 1529.6,1259.2 1542.4,1266.4" fill="none" stroke="#1f1f1f" stroke-width="2.6" stroke-linejoin="round" stroke-linecap="butt"/>
<polyline points="1542.4,1266.4 1554.4,1263.2 1614.4,1244.8 1620.8,1241.6 1684.8,1202.4 1685.6,1174.4 1689.6,1171.2 1687.2,1167.2" fill="none" stroke="#1f1f1f" stroke-width="2.6" stroke-linejoin="round" stroke-linecap="butt"/>
<polyline points="1554.4,1263.2 1593.6,1169.6 1596.0,1167.2" fill="none" stroke="#1f1f1f" stroke-width="2.6" stroke-linejoin="round" stroke-linecap="butt"/>
<polyline points="1475.2,1399.2 1459.2,1387.2 1440.0,1370.4 1427.5,1360.0 1370.2,1315.6" fill="none" stroke="#ff0000" stroke-width="2.6" stroke-linejoin="round" stroke-linecap="butt"/>
<polyline points="1370.2,1315.6 1371.7,1286.0 1372.2,1271.3" fill="none" stroke="#ff0000" stroke-width="2.6" stroke-linejoin="round" stroke-linecap="butt"/>
<polyline points="1372.2,1271.3 1359.9,1240.7 1354.0,1229.9" fill="none" stroke="#ff0000" stroke-width="2.6" stroke-linejoin="round" stroke-linecap="butt"/>
<polyline points="1354.0,1229.9 1347.1,1223.0 1331.4,1195.4 1344.6,1167.4" fill="none" stroke="#ff0000" stroke-width="2.6" stroke-linejoin="round" stroke-linecap="butt"/>
<polyline points="1354.0,1229.9 1358.9,1211.2 1362.9,1200.4 1370.7,1192.5 1365.3,1167.4" fill="none" stroke="#ff0000" stroke-width="2.6" stroke-linejoin="round" stroke-linecap="butt"/>
<polyline points="1372.2,1271.3 1383.5,1243.7 1388.5,1204.3 1392.9,1177.7 1390.9,1167.4" fill="none" stroke="#ff0000" stroke-width="2.6" stroke-linejoin="round" stroke-linecap="butt"/>
<text x="0" y="0" font-size="17.5" font-weight="bold" fill="#000" stroke="#000" stroke-width="0.45" textLength="79.6" lengthAdjust="spacingAndGlyphs" transform="translate(1367,97.4) rotate(-45)">Mangabey</text>
<text x="0" y="0" font-size="17.5" font-weight="bold" fill="#000" stroke="#000" stroke-width="0.45" textLength="69.6" lengthAdjust="spacingAndGlyphs" transform="translate(1393.1,97.4) rotate(-45)">Macaque</text>
<text x="0" y="0" font-size="17.5" font-weight="bold" fill="#000" stroke="#000" stroke-width="0.45" textLength="65.1" lengthAdjust="spacingAndGlyphs" transform="translate(1422.5,97.4) rotate(-45)">Colobus</text>
<text x="0" y="0" font-size="17.5" font-weight="bold" fill="#000" stroke="#000" stroke-width="0.45" textLength="74.1" lengthAdjust="spacingAndGlyphs" transform="translate(1444.5,97.4) rotate(-45)">Capuchin</text>
<text x="0" y="0" font-size="17.5" font-weight="bold" fill="#000" stroke="#000" stroke-width="0.45" textLength="95.9" lengthAdjust="spacingAndGlyphs" transform="translate(1618.5,98) rotate(-45)">Owl monkey</text>
<text x="0" y="0" font-size="17.5" font-weight="bold" fill="#000" stroke="#000" stroke-width="0.45" textLength="76.9" lengthAdjust="spacingAndGlyphs" transform="translate(1695,97.5) rotate(-45)">Marmoset</text>
<text x="0" y="0" font-size="17.5" font-weight="bold" fill="#000" stroke="#000" stroke-width="0.45" textLength="69.6" lengthAdjust="spacingAndGlyphs" transform="translate(1445,637.5) rotate(-45)">Macaque</text>
<text x="0" y="0" font-size="17.5" font-weight="bold" fill="#000" stroke="#000" stroke-width="0.45" textLength="79.6" lengthAdjust="spacingAndGlyphs" transform="translate(1474.5,637) rotate(-45)">Mangabey</text>
<text x="0" y="0" font-size="17.5" font-weight="bold" fill="#000" stroke="#000" stroke-width="0.45" textLength="74.1" lengthAdjust="spacingAndGlyphs" transform="translate(1525,637) rotate(-45)">Capuchin</text>
<text x="0" y="0" font-size="17.5" font-weight="bold" fill="#000" stroke="#000" stroke-width="0.45" textLength="65.1" lengthAdjust="spacingAndGlyphs" transform="translate(1555,637) rotate(-45)">Colobus</text>
<text x="0" y="0" font-size="17.5" font-weight="bold" fill="#000" stroke="#000" stroke-width="0.45" textLength="95.9" lengthAdjust="spacingAndGlyphs" transform="translate(1722,638) rotate(-45)">Owl monkey</text>
<text x="0" y="0" font-size="17.5" font-weight="bold" fill="#000" stroke="#000" stroke-width="0.45" textLength="76.9" lengthAdjust="spacingAndGlyphs" transform="translate(1772,637.5) rotate(-45)">Marmoset</text>
<text x="0" y="0" font-size="17.5" font-weight="bold" fill="#000" stroke="#000" stroke-width="0.45" textLength="79.6" lengthAdjust="spacingAndGlyphs" transform="translate(1338.5,1161) rotate(-45)">Mangabey</text>
<text x="0" y="0" font-size="17.5" font-weight="bold" fill="#000" stroke="#000" stroke-width="0.45" textLength="69.6" lengthAdjust="spacingAndGlyphs" transform="translate(1364.5,1161) rotate(-45)">Macaque</text>
<text x="0" y="0" font-size="17.5" font-weight="bold" fill="#000" stroke="#000" stroke-width="0.45" textLength="65.1" lengthAdjust="spacingAndGlyphs" transform="translate(1393,1160.5) rotate(-45)">Colobus</text>
<text x="0" y="0" font-size="17.5" font-weight="bold" fill="#000" stroke="#000" stroke-width="0.45" textLength="74.1" lengthAdjust="spacingAndGlyphs" transform="translate(1415,1160.5) rotate(-45)">Capuchin</text>
<text x="0" y="0" font-size="17.5" font-weight="bold" fill="#000" stroke="#000" stroke-width="0.45" textLength="95.9" lengthAdjust="spacingAndGlyphs" transform="translate(1596,1160.5) rotate(-45)">Owl monkey</text>
<text x="0" y="0" font-size="17.5" font-weight="bold" fill="#000" stroke="#000" stroke-width="0.45" textLength="76.9" lengthAdjust="spacingAndGlyphs" transform="translate(1686,1161) rotate(-45)">Marmoset</text>
</svg>
</body></html>
